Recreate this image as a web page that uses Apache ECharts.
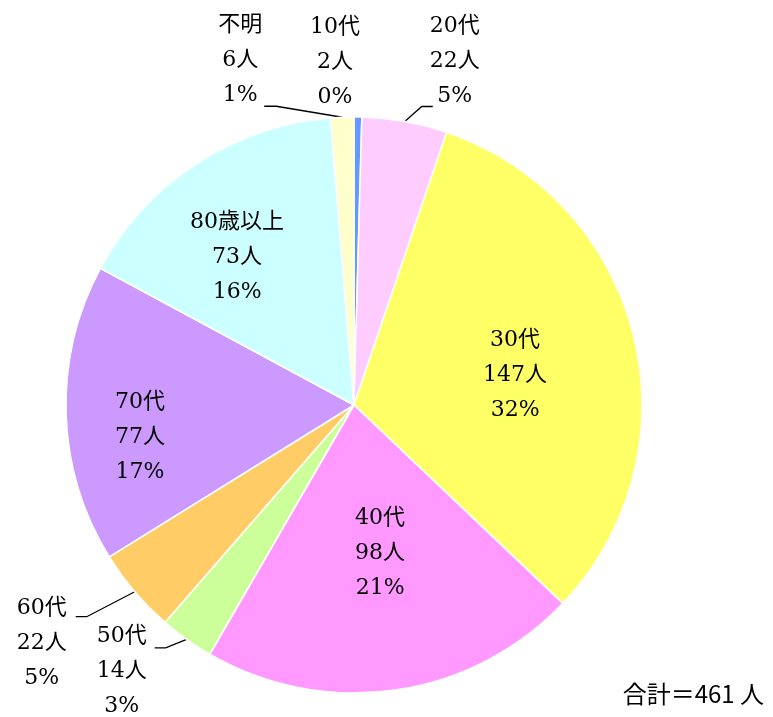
<!DOCTYPE html>
<html><head><meta charset="utf-8">
<script src="https://cdn.jsdelivr.net/npm/echarts@6/dist/echarts.min.js"></script>
<style>html,body{margin:0;padding:0;background:#fff}#c{width:773px;height:717px}</style>
</head><body><div id="c"></div>
<script>
const categories = ['10代', '20代', '30代', '40代', '50代', '60代', '70代', '80歳以上', '不明'];
const counts = [2, 22, 147, 98, 14, 22, 77, 73, 6];
const colors = ['#6699FF', '#FFCCFF', '#FFFF66', '#FF99FF', '#CCFF99', '#FFCC66', '#CC99FF', '#CCFFFF', '#FFFFCC'];
const totalLabel = '合計＝461 人';

// label placement styling:
//  inside labels: polar position (fraction of radius, angular tweak in degrees from slice middle)
//  outside labels: offset of label centre from the arc midpoint, plus leader line elbow/end offsets
const labelPlace = [
  {out: true, dx: -23, dy: -55, line: null},
  {out: true, dx: 50, dy: -60, line: [[17, -15], [28, -15]]},
  {out: false, rf: 0.569, da: 3.3},
  {out: false, rf: 0.522, da: -1.8},
  {out: true, dx: -65, dy: 32, line: [[-21, 8.5], [-32, 8.5]]},
  {out: true, dx: -93, dy: 52, line: [[-48, 25], [-59, 25]]},
  {out: false, rf: 0.751, da: -6.7},
  {out: false, rf: 0.655, da: -5.1},
  {out: true, dx: -102, dy: -57, line: [[-66, -11], [-78, -11]]}
];

const total = counts.reduce((a, b) => a + b, 0);
const chart = echarts.init(document.getElementById('c'), null, {renderer: 'canvas'});
const fontFam = '"DejaVu Serif", "Noto Sans CJK JP", serif';

const data = categories.map((name, i) => ({
  name: name,
  value: counts[i],
  itemStyle: {color: colors[i]},
  label: {position: labelPlace[i].out ? 'outside' : 'inside'},
  labelLine: {show: !!(labelPlace[i].out && labelPlace[i].line)}
}));

const baseOption = {
  animation: false,
  backgroundColor: '#ffffff',
  title: {
    text: totalLabel,
    right: 4, bottom: 6,
    textStyle: {fontFamily: '"Noto Sans CJK JP", sans-serif', fontSize: 24, fontWeight: 'normal', color: '#000'}
  },
  series: [{
    type: 'pie',
    center: [354, 405],
    radius: 288,
    startAngle: 90,
    clockwise: true,
    avoidLabelOverlap: false,
    emphasis: {disabled: true},
    itemStyle: {borderColor: '#ffffff', borderWidth: 1.5},
    label: {
      color: '#000',
      fontFamily: fontFam,
      fontSize: 22,
      lineHeight: 35,
      align: 'center',
      formatter: p => p.name + '\n' + p.value + '人\n' + Math.round(p.value / total * 100) + '%'
    },
    labelLine: {lineStyle: {color: '#000', width: 1.3}, length: 15, length2: 10},
    data: data
  }]
};
chart.setOption(baseOption);

const sData = chart.getModel().getSeriesByIndex(0).getData();
const place = categories.map((n, i) => {
  const L = sData.getItemLayout(i);
  const pl = labelPlace[i];
  let mid = (L.startAngle + L.endAngle) / 2;
  if (pl.out) {
    const ax = L.cx + L.r * Math.cos(mid), ay = L.cy + L.r * Math.sin(mid);
    const res = {x: ax + pl.dx, y: ay + pl.dy};
    if (pl.line) {
      res.line = [[ax, ay]].concat(pl.line.map(o => [ax + o[0], ay + o[1]]));
    }
    return res;
  }
  mid += pl.da * Math.PI / 180;
  return {x: L.cx + L.r * pl.rf * Math.cos(mid), y: L.cy + L.r * pl.rf * Math.sin(mid)};
});

chart.setOption({
  series: [{
    labelLayout: function (params) {
      const p = place[params.dataIndex];
      const r = {x: p.x, y: p.y, align: 'center', verticalAlign: 'middle'};
      if (p.line) r.labelLinePoints = p.line;
      return r;
    }
  }]
});
</script>
</body></html>
